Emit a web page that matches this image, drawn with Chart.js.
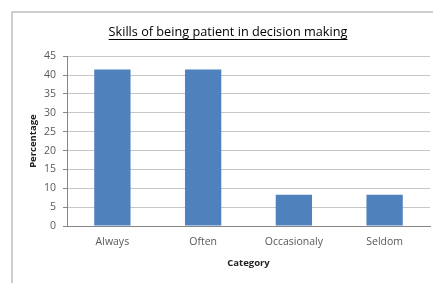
<!DOCTYPE html>
<html>
<head>
<meta charset="utf-8">
<script src="https://cdn.jsdelivr.net/npm/chart.js@4"></script>
<style>
  html, body { margin: 0; padding: 0; background: #fff; overflow: hidden; }
  #wrap { position: relative; width: 433px; height: 283px; }
  #frame { position: absolute; left: 11px; top: 11px; width: 440px; height: 290px;
           border: 2px solid #cfcfcf; pointer-events: none; }
  canvas { position: absolute; left: 0; top: 0; }
</style>
</head>
<body>
<div id="wrap">
  <canvas id="chart_skills" width="433" height="283"></canvas>
  <div id="frame"></div>
</div>
<script>
const categories = ['Always', 'Often', 'Occasionaly', 'Seldom'];
const percentages = [41.5, 41.5, 8.3, 8.3];
const yTicks = [0, 5, 10, 15, 20, 25, 30, 35, 40, 45];

const fontFamily = '"Open Sans", Lato, sans-serif';
const titleSize = 12.7;

// chart.js has no underline option for titles
const underlineTitle = {
  id: 'underlineTitle',
  afterDraw(chart) {
    const tb = chart.titleBlock;
    if (!tb) return;
    const ctx = chart.ctx;
    ctx.save();
    ctx.font = titleSize + 'px ' + fontFamily;
    const w = ctx.measureText(tb.options.text).width;
    const cx = (tb.left + tb.right) / 2;
    const y = tb.top + tb.options.padding.top + 14;
    ctx.strokeStyle = '#000';
    ctx.lineWidth = 1;
    ctx.beginPath();
    ctx.moveTo(cx - w / 2, y + 0.5);
    ctx.lineTo(cx + w / 2, y + 0.5);
    ctx.stroke();
    ctx.restore();
  }
};

new Chart(document.getElementById('chart_skills'), {
  type: 'bar',
  data: {
    labels: categories,
    datasets: [{
      label: 'Percentage',
      data: percentages,
      backgroundColor: '#4f81bd',
      borderWidth: 0,
      categoryPercentage: 1,
      barPercentage: 0.4
    }]
  },
  options: {
    responsive: false,
    animation: false,
    layout: { padding: { left: 26, right: 3, top: 15, bottom: 14 } },
    scales: {
      y: {
        min: 0,
        max: 45,
        afterBuildTicks: (axis) => { axis.ticks = yTicks.map(v => ({ value: v })); },
        afterFit: (axis) => { axis.width = 41; },
        ticks: {
          color: '#595959',
          padding: 7,
          font: { family: fontFamily, size: 10.5 }
        },
        grid: { color: '#c6c6c6', tickLength: 4, tickColor: '#868686' },
        border: { color: '#868686' },
        title: {
          display: true,
          text: 'Percentage',
          color: '#222',
          padding: { top: 2, bottom: 2 },
          font: { family: fontFamily, size: 9.5, weight: 'bold' }
        }
      },
      x: {
        ticks: {
          color: '#595959',
          padding: 6,
          font: { family: fontFamily, size: 10.5 }
        },
        grid: { display: false, tickLength: 4 },
        border: { color: '#868686' },
        title: {
          display: true,
          text: 'Category',
          color: '#222',
          padding: { top: 3, bottom: 0 },
          font: { family: fontFamily, size: 9.5, weight: 'bold' }
        }
      }
    },
    plugins: {
      legend: { display: false },
      tooltip: { enabled: false },
      title: {
        display: true,
        text: 'Skills of being patient in decision making',
        color: '#000',
        padding: { top: 10, bottom: 16 },
        font: { family: fontFamily, size: titleSize, weight: 'normal' }
      }
    }
  },
  plugins: [underlineTitle]
});
</script>
</body>
</html>
